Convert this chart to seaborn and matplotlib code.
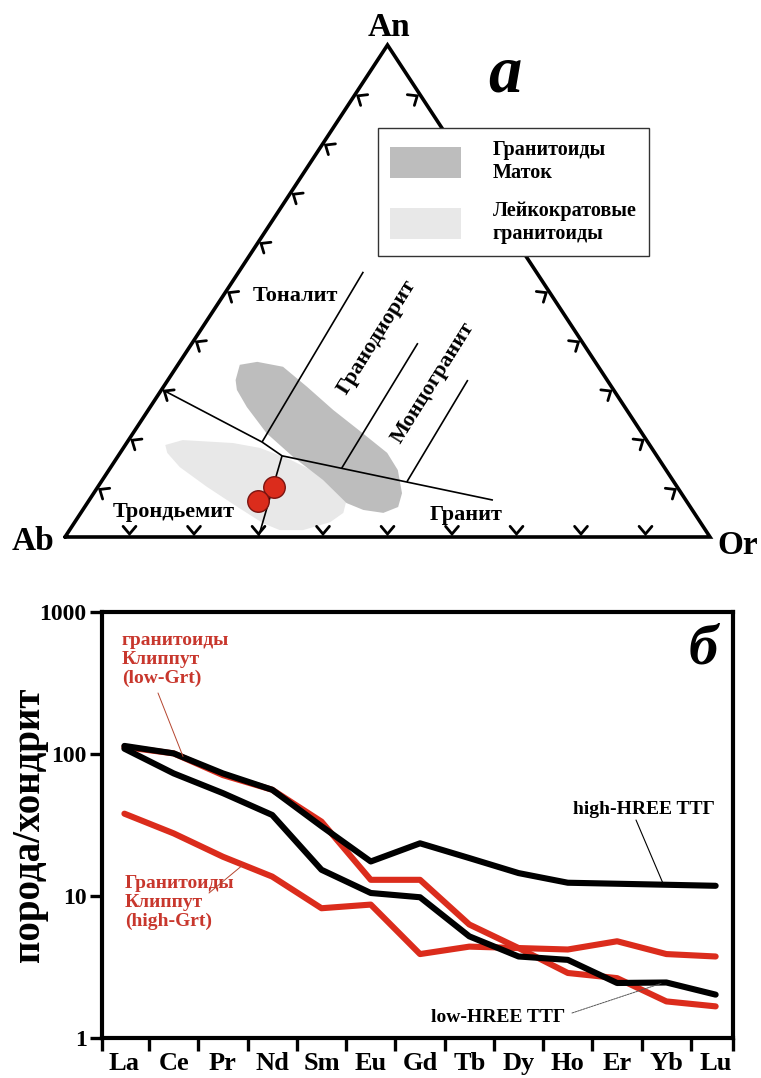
import numpy as np
import pandas as pd
import matplotlib
matplotlib.use("Agg")
import matplotlib.pyplot as plt
import seaborn as sns
from matplotlib.patches import Patch

sns.set_theme(style="white")
plt.rcParams["font.family"] = ["Liberation Serif", "DejaVu Serif"]
plt.rcParams["font.weight"] = "bold"
plt.rcParams["text.color"] = "black"
plt.rcParams["axes.labelcolor"] = "black"
plt.rcParams["xtick.color"] = "black"
plt.rcParams["ytick.color"] = "black"

# ---------------- data: ternary An-Ab-Or (fractions) ----------------
# field boundaries (An, Or) pairs
bnd_main_an = [0.30, 0.193, 0.165, 0.075]
bnd_main_or = [0.00, 0.209, 0.254, 0.626]
bnd_trond_an = [0.165, 0.0]
bnd_trond_or = [0.254, 0.30]
bnd_ton_an = [0.193, 0.539]
bnd_ton_or = [0.209, 0.193]
bnd_gd_an = [0.140, 0.394]
bnd_gd_or = [0.359, 0.350]
bnd_mz_an = [0.112, 0.319]
bnd_mz_or = [0.474, 0.465]

# fields (outlines) An / Or
matok_an = [0.319, 0.350, 0.356, 0.346, 0.305, 0.258, 0.211, 0.171, 0.136, 0.089,
            0.061, 0.049, 0.055, 0.069, 0.116, 0.163, 0.211, 0.264, 0.299]
matok_or = [0.105, 0.096, 0.120, 0.165, 0.223, 0.287, 0.356, 0.414, 0.448, 0.478,
            0.486, 0.469, 0.435, 0.402, 0.342, 0.272, 0.207, 0.150, 0.117]
leuco_an = [0.187, 0.197, 0.191, 0.181, 0.157, 0.130, 0.102, 0.075, 0.049, 0.030,
            0.014, 0.014, 0.028, 0.061, 0.102, 0.142, 0.171]
leuco_or = [0.062, 0.084, 0.165, 0.212, 0.271, 0.326, 0.371, 0.399, 0.407, 0.396,
            0.362, 0.326, 0.293, 0.237, 0.169, 0.107, 0.073]

# Klipput samples
sample_an = [0.102, 0.073]
sample_or = [0.273, 0.262]

# ---------------- data: REE spider diagram ----------------
ree = ["La", "Ce", "Pr", "Nd", "Sm", "Eu", "Gd", "Tb", "Dy", "Ho", "Er", "Yb", "Lu"]
klipput_low_grt = [112, 101, 71, 56, 33.4, 13.0, 13.0, 6.3, 4.3, 2.87, 2.64, 1.81, 1.67]
klipput_high_grt = [38, 27.6, 18.9, 13.7, 8.2, 8.7, 3.9, 4.4, 4.3, 4.2, 4.8, 3.9, 3.75]
ttg_high_hree = [114, 101, 73, 56, 31, 17.5, 23.5, 18.5, 14.5, 12.4, 12.2, 12.0, 11.8]
ttg_low_hree = [109, 73, 53, 37.2, 15.3, 10.5, 9.8, 5.2, 3.75, 3.55, 2.44, 2.46, 2.02]

RED = "#db2c1c"
RED_TXT = "#c8372d"
DARK = "#bdbdbd"
LIGHT = "#e8e8e8"

W, H = 761, 1078
fig = plt.figure(figsize=(W / 100, H / 100), dpi=100)
fig.patch.set_facecolor("white")

# ================= ternary axes =================
SX, SY = 645.0, 492.0  # pixels per unit
ax1 = fig.add_axes([0, 1 - 560 / H, 1, 560 / H])
ax1.set_xlim(-65 / SX, (W - 65) / SX)
ax1.set_ylim(-23 / SY, 537 / SY)
ax1.axis("off")


def txy(an, orr):
    an = np.asarray(an, float)
    orr = np.asarray(orr, float)
    return orr + an / 2, an


def px(xp, yp):
    return (xp - 65) / SX, (537 - yp) / SY


# fields
x, y = txy(leuco_an, leuco_or)
ax1.fill(x, y, color=LIGHT, lw=0, zorder=1)
x, y = txy(matok_an, matok_or)
ax1.fill(x, y, color=DARK, lw=0, zorder=1.1)

# boundaries
for a, o in [(bnd_main_an, bnd_main_or), (bnd_trond_an, bnd_trond_or),
             (bnd_ton_an, bnd_ton_or), (bnd_gd_an, bnd_gd_or), (bnd_mz_an, bnd_mz_or)]:
    x, y = txy(a, o)
    ax1.plot(x, y, color="black", lw=1.2, zorder=2, solid_capstyle="butt")

# triangle
x, y = txy([0, 0, 1, 0], [0, 1, 0, 0])
ax1.plot(x, y, color="black", lw=2.6, zorder=4, solid_joinstyle="miter")


def chevron(xd, yd, theta_deg, L=10, half=40, inset=3):
    th = np.deg2rad(theta_deg)
    tx = xd - inset * np.cos(th) / SX
    ty = yd - inset * np.sin(th) / SY
    pts = []
    for s in (-1, 1):
        a = th + np.pi + s * np.deg2rad(half)
        pts.append((tx + L * np.cos(a) / SX, ty + L * np.sin(a) / SY))
    ax1.plot([pts[0][0], tx, pts[1][0]], [pts[0][1], ty, pts[1][1]],
             color="black", lw=2.0, zorder=4, solid_joinstyle="miter")


th_left = np.degrees(np.arctan2(0.5 * SX, -SY))
th_right = np.degrees(np.arctan2(0.5 * SX, SY))
for k in range(1, 10):
    f = k / 10
    bx, by = txy(0, f)
    chevron(bx, by, -90)
    lx, ly = txy(f, 0)
    chevron(lx, ly, th_left)
    rx, ry = txy(f, 1 - f)
    chevron(rx, ry, th_right)

# samples
sx, sy = txy(sample_an, sample_or)
sns.scatterplot(x=sx, y=sy, s=240, color=RED, edgecolor="#7a1410", linewidth=1,
                zorder=5, ax=ax1, legend=False)

# labels
ax1.text(*px(389, 28), "An", fontsize=24, ha="center", va="center")
ax1.text(*px(33, 542), "Ab", fontsize=24, ha="center", va="center")
ax1.text(*px(738, 545), "Or", fontsize=24, ha="center", va="center")
ax1.text(*px(505, 75), "а", fontsize=48, style="italic", ha="center", va="center")
ax1.text(*px(295, 296), "Тоналит", fontsize=16, ha="center", va="center")
ax1.text(*px(174, 512), "Трондьемит", fontsize=16, ha="center", va="center")
ax1.text(*px(466, 515), "Гранит", fontsize=16, ha="center", va="center")
ax1.text(*px(377, 337), "Гранодиорит", fontsize=16, ha="center", va="center",
         rotation=58, rotation_mode="anchor")
ax1.text(*px(433, 383), "Монцогранит", fontsize=16, ha="center", va="center",
         rotation=58, rotation_mode="anchor")

leg = ax1.legend(handles=[Patch(facecolor=DARK, edgecolor="none", label="Гранитоиды\nМаток"),
                          Patch(facecolor=LIGHT, edgecolor="none", label="Лейкократовые\nгранитоиды")],
                 loc="upper left", bbox_to_anchor=(378 / W, 1 - 128 / 560), borderaxespad=0,
                 prop={"size": 14.5, "weight": "bold"}, handlelength=3.5, handleheight=2.0,
                 handletextpad=1.6, labelspacing=0.9, borderpad=0.6, frameon=True,
                 fancybox=False, edgecolor="#333333", framealpha=1)
leg.get_frame().set_linewidth(1.0)
leg.set_zorder(10)

# ================= REE spider axes =================
ax2 = fig.add_axes([102 / W, 1 - 1038 / H, 631 / W, 426 / H])
pos = np.arange(len(ree))
series = {
    "low-Grt": klipput_low_grt,
    "high-Grt": klipput_high_grt,
    "high-HREE": ttg_high_hree,
    "low-HREE": ttg_low_hree,
}
df = pd.concat([pd.DataFrame({"pos": pos, "ree": ree, "val": v, "series": k})
                for k, v in series.items()], ignore_index=True)
palette = {"low-Grt": RED, "high-Grt": RED, "high-HREE": "black", "low-HREE": "black"}
sns.lineplot(data=df, x="pos", y="val", hue="series", palette=palette,
             hue_order=list(series.keys()), linewidth=4.4, legend=False, ax=ax2,
             sort=False, estimator=None)
ax2.set_yscale("log")
ax2.set_ylim(1, 1000)
x0, x1 = -0.4546, 12.352
ax2.set_xlim(x0, x1)
for sp in ax2.spines.values():
    sp.set_linewidth(3.0)
    sp.set_color("black")
ax2.set_yticks([1, 10, 100, 1000])
ax2.set_yticklabels(["1", "10", "100", "1000"])
ax2.yaxis.set_minor_locator(matplotlib.ticker.NullLocator())
ax2.tick_params(axis="y", which="major", direction="out", length=9, width=2.4,
                labelsize=17, pad=2, left=True, color="black")
ax2.set_xticks([x0] + list(pos[:-1] + 0.5) + [x1])
ax2.set_xticklabels([])
ax2.set_xticks(pos, minor=True)
ax2.set_xticklabels(ree, minor=True)
ax2.tick_params(axis="x", which="major", direction="out", length=9, width=2.4,
                bottom=True, color="black")
ax2.tick_params(axis="x", which="minor", length=0, labelsize=19, pad=10)
for lab in ax2.get_xticklabels(minor=True) + ax2.get_yticklabels():
    lab.set_fontweight("bold")
ax2.set_xlabel("")
ax2.set_ylabel("порода/хондрит", fontsize=28, fontweight="bold")
ax2.yaxis.set_label_coords((48 - 102) / 631, 0.5)


def afr(xp, yp):
    return (xp - 102) / 631, (1038 - yp) / 426


ax2.text(*afr(122, 632), "гранитоиды\nКлиппут\n(low-Grt)", transform=ax2.transAxes,
         fontsize=14, color=RED_TXT, ha="left", va="top", linespacing=1.15)
ax2.text(*afr(125, 875), "Гранитоиды\nКлиппут\n(high-Grt)", transform=ax2.transAxes,
         fontsize=14, color=RED_TXT, ha="left", va="top", linespacing=1.15)
ax2.text(*afr(644, 810), "high-HREE TTГ", transform=ax2.transAxes, fontsize=14,
         ha="center", va="center")
ax2.text(*afr(498, 1017), "low-HREE TTГ", transform=ax2.transAxes, fontsize=14,
         ha="center", va="center")
ax2.text(*afr(703, 650), "б", transform=ax2.transAxes, fontsize=42, style="italic",
         ha="center", va="center")

# leader lines
ax2.annotate("", xy=(1.19, 96), xycoords="data", xytext=afr(158, 693),
             textcoords="axes fraction",
             arrowprops=dict(arrowstyle="-", color="#b5452f", lw=0.7, shrinkA=0, shrinkB=0))
ax2.annotate("", xy=(2.4, 16.5), xycoords="data", xytext=afr(209, 893),
             textcoords="axes fraction",
             arrowprops=dict(arrowstyle="-", color="#b5452f", lw=0.7, shrinkA=0, shrinkB=0))
ax2.annotate("", xy=(10.93, 12.3), xycoords="data", xytext=afr(636, 820),
             textcoords="axes fraction",
             arrowprops=dict(arrowstyle="-", color="black", lw=0.8, shrinkA=0, shrinkB=0))
ax2.annotate("", xy=(10.89, 2.42), xycoords="data", xytext=afr(572, 1013),
             textcoords="axes fraction",
             arrowprops=dict(arrowstyle="-", color="#555555", lw=0.7, ls=(0, (2, 1)),
                             shrinkA=0, shrinkB=0))

fig.savefig("out.png", dpi=100, facecolor="white")
